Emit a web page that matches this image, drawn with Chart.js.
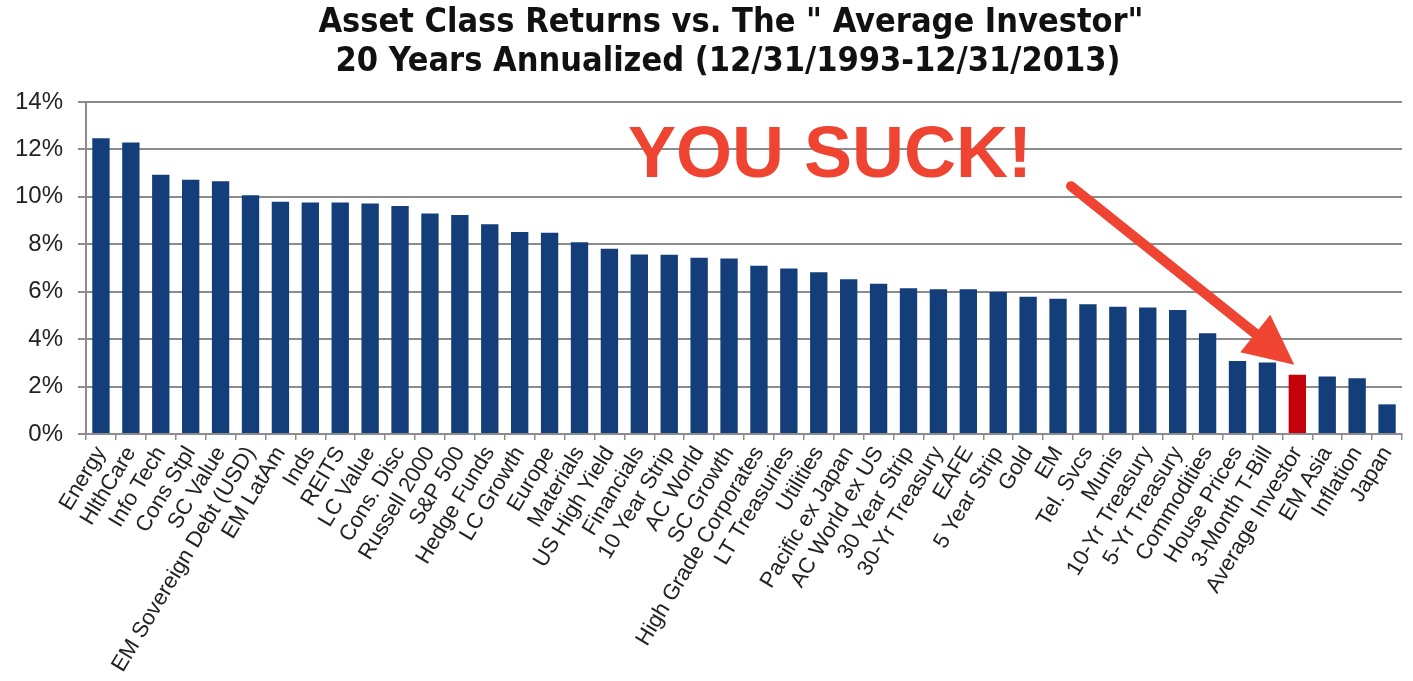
<!DOCTYPE html>
<html>
<head>
<meta charset="utf-8">
<script src="https://cdn.jsdelivr.net/npm/chart.js@4.4.1/dist/chart.umd.min.js"></script>
<style>
  html, body { margin: 0; padding: 0; background: #fff; }
  #wrap { width: 1413px; height: 681px; }
</style>
</head>
<body>
<div id="wrap"><canvas id="myChart"></canvas></div>
<script>
// categories, sorted like the original
var categorias = [
    'Energy', 'HlthCare', 'Info Tech', 'Cons Stpl', 'SC Value', 'EM Sovereign Debt (USD)',
    'EM LatAm', 'Inds', 'REITS', 'LC Value', 'Cons. Disc', 'Russell 2000', 'S&P 500',
    'Hedge Funds', 'LC Growth', 'Europe', 'Materials', 'US High Yield', 'Financials',
    '10 Year Strip', 'AC World', 'SC Growth', 'High Grade Corporates', 'LT Treasuries',
    'Utilities', 'Pacific ex Japan', 'AC World ex US', '30 Year Strip', '30-Yr Treasury',
    'EAFE', '5 Year Strip', 'Gold', 'EM', 'Tel. Svcs', 'Munis', '10-Yr Treasury',
    '5-Yr Treasury', 'Commodities', 'House Prices', '3-Month T-Bill', 'Average Investor',
    'EM Asia', 'Inflation', 'Japan'
];

// 20 year annualized return, %
var retornos = [
    12.47, 12.29, 10.93, 10.72, 10.66, 10.07,
    9.79, 9.76, 9.76, 9.72, 9.61, 9.30, 9.24,
    8.85, 8.52, 8.49, 8.09, 7.81, 7.57,
    7.56, 7.43, 7.40, 7.09, 6.98,
    6.82, 6.53, 6.34, 6.15, 6.10,
    6.10, 5.99, 5.79, 5.70, 5.47, 5.37, 5.33,
    5.23, 4.25, 3.08, 3.01, 2.50,
    2.42, 2.35, 1.25
];

var ticksY = [0, 2, 4, 6, 8, 10, 12, 14];
var destacado = 'Average Investor';
var titulo = ['Asset Class Returns vs. The " Average Investor"',
              '20 Years Annualized (12/31/1993-12/31/2013)'];

var colores = categorias.map(function (c) {
    return c == destacado ? '#c4000b' : '#133e7a';
});

var gris = '#8c8c8c';

// title, "YOU SUCK!" and the arrow pointing at the highlighted bar
var anotacion = {
    id: 'anotacion',
    afterDatasetsDraw: function (chart) {
        var ctx = chart.ctx;
        var x = chart.scales.x, y = chart.scales.y;
        var i = categorias.indexOf(destacado);
        var tipX = x.getPixelForValue(i) - 3;
        var tipY = y.getPixelForValue(retornos[i] + 0.42);
        var startX = chart.chartArea.left + 985;
        var startY = y.getPixelForValue(10.45);

        ctx.save();
        ctx.fillStyle = '#111';
        ctx.textAlign = 'center';
        ctx.textBaseline = 'middle';
        ctx.font = 'bold 34px "DejaVu Sans Condensed", "Liberation Sans Narrow", sans-serif';
        ctx.fillText(titulo[0], 731, 23);
        ctx.fillText(titulo[1], 728, 62);

        ctx.fillStyle = '#ef4431';
        ctx.textAlign = 'left';
        ctx.textBaseline = 'alphabetic';
        ctx.font = 'bold 72px "Liberation Sans", Arial, sans-serif';
        ctx.fillText('YOU SUCK!', 628, 177);

        var ang = Math.atan2(tipY - startY, tipX - startX);
        var largo = 50, ancho = 24;
        var baseX = tipX - largo * Math.cos(ang);
        var baseY = tipY - largo * Math.sin(ang);
        ctx.strokeStyle = '#ef4431';
        ctx.lineWidth = 10;
        ctx.lineCap = 'round';
        ctx.beginPath();
        ctx.moveTo(startX, startY);
        ctx.lineTo(baseX + 2 * Math.cos(ang), baseY + 2 * Math.sin(ang));
        ctx.stroke();
        ctx.beginPath();
        ctx.moveTo(tipX, tipY);
        ctx.lineTo(baseX + ancho * Math.sin(ang), baseY - ancho * Math.cos(ang));
        ctx.lineTo(baseX - ancho * Math.sin(ang), baseY + ancho * Math.cos(ang));
        ctx.closePath();
        ctx.fill();
        ctx.restore();
    }
};

const data = {
    labels: categorias,
    datasets: [{
        label: 'Returns',
        data: retornos,
        backgroundColor: colores,
        borderWidth: 0,
        barPercentage: 0.58,
        categoryPercentage: 1.0
    }]
};

const config = {
    type: 'bar',
    data: data,
    plugins: [anotacion],
    options: {
        responsive: true,
        maintainAspectRatio: false,
        animation: false,
        layout: { padding: { left: 0, right: 11, top: 102, bottom: 0 } },
        plugins: {
            legend: { display: false },
            tooltip: { enabled: false },
            title: { display: false }
        },
        scales: {
            x: {
                grid: { display: true, drawOnChartArea: false, drawTicks: true, tickLength: 6, color: gris, lineWidth: 1.5 },
                border: { display: true, color: gris, width: 2 },
                ticks: {
                    autoSkip: false,
                    minRotation: 59,
                    maxRotation: 59,
                    color: '#222',
                    padding: 2,
                    font: { family: '"Liberation Sans", Arial, sans-serif', size: 22 }
                },
                afterFit: function (scale) { scale.height = 247; }
            },
            y: {
                min: 0,
                max: 14,
                afterBuildTicks: function (scale) {
                    scale.ticks = ticksY.map(function (v) { return { value: v }; });
                },
                grid: { color: gris, lineWidth: 2, tickLength: 8 },
                border: { display: true, color: gris, width: 2 },
                ticks: {
                    color: '#222',
                    padding: 15,
                    font: { family: '"Liberation Sans", Arial, sans-serif', size: 24 },
                    callback: function (v) { return v + '%'; }
                },
                afterFit: function (scale) { scale.width = 86; }
            }
        }
    }
};

var myChart = new Chart(document.getElementById('myChart'), config);
</script>
</body>
</html>
